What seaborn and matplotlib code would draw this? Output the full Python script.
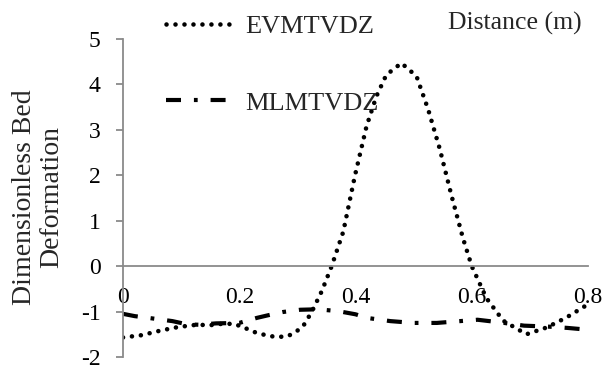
import matplotlib
matplotlib.use("Agg")
import matplotlib.pyplot as plt
import seaborn as sns
import pandas as pd

# ---- data ----
x_ev = [0.0, 0.032, 0.064, 0.095, 0.127, 0.15, 0.17, 0.19, 0.207, 0.221, 0.236, 0.253,
        0.267, 0.284, 0.299, 0.31, 0.325, 0.342, 0.359, 0.379, 0.399, 0.419, 0.436,
        0.453, 0.479, 0.505, 0.525, 0.545, 0.565, 0.585, 0.600, 0.625, 0.654, 0.694,
        0.729, 0.763, 0.8]
y_ev = [-1.57, -1.52, -1.42, -1.34, -1.29, -1.30, -1.27, -1.27, -1.34, -1.43, -1.49,
        -1.54, -1.56, -1.54, -1.43, -1.32, -1.0, -0.55, 0.0, 0.76, 1.99, 3.08, 3.74,
        4.21, 4.47, 4.18, 3.45, 2.58, 1.56, 0.61, 0.0, -0.70, -1.2, -1.50, -1.35,
        -1.13, -0.84]

x_ml = [0.0, 0.02, 0.05, 0.085, 0.11, 0.13, 0.16, 0.2, 0.23, 0.25, 0.275, 0.305,
        0.335, 0.37, 0.4, 0.42, 0.46, 0.5, 0.54, 0.58, 0.61, 0.65, 0.69, 0.73,
        0.765, 0.8]
y_ml = [-1.05, -1.10, -1.15, -1.21, -1.28, -1.29, -1.26, -1.25, -1.14, -1.08, -1.01,
        -0.96, -0.95, -0.99, -1.06, -1.14, -1.21, -1.25, -1.25, -1.21, -1.18, -1.24,
        -1.31, -1.33, -1.36, -1.40]

series_names = ["EVMTVDZ", "MLMTVDZ"]
x_ticks = [0, 0.2, 0.4, 0.6, 0.8]
x_ticklabels = ["0", "0.2", "0.4", "0.6", "0.8"]
y_ticks = [-2, -1, 0, 1, 2, 3, 4, 5]
y_ticklabels = ["-2", "-1", "0", "1", "2", "3", "4", "5"]
x_title = "Distance (m)"
y_title = "Dimensionless Bed\nDeformation"

# ---- plot ----
sns.set_theme(style="white")
plt.rcParams["font.family"] = ["Liberation Serif", "DejaVu Serif"]
plt.rcParams["axes.unicode_minus"] = False
FS = 17

fig = plt.figure(figsize=(6.08, 3.69), dpi=100)
ax = fig.add_axes([123 / 608, 1 - 357 / 369, 465 / 608, 318 / 369])

df_ev = pd.DataFrame({"x": x_ev, "y": y_ev})
df_ml = pd.DataFrame({"x": x_ml, "y": y_ml})

sns.lineplot(data=df_ev, x="x", y="y", ax=ax, color="black", lw=3.3,
             label=series_names[0], sort=False)
sns.lineplot(data=df_ml, x="x", y="y", ax=ax, color="black", lw=3.0,
             label=series_names[1], sort=False)
l_ev, l_ml = ax.get_lines()[:2]
l_ev.set_linestyle((0, (0.01, 1.95)))
l_ev.set_dash_capstyle("round")
l_ml.set_linestyle((0, (3.6, 3.1, 0.9, 3.1)))
l_ml.set_dash_capstyle("butt")

ax.set_xlim(0, 0.8)
ax.set_ylim(-2, 5)
ax.set_xticks(x_ticks)
ax.set_xticklabels(x_ticklabels)
ax.set_yticks(y_ticks)
ax.set_yticklabels(y_ticklabels)
ax.set_xlabel("")
ax.set_ylabel("")

gray = "#8a8a8a"
for s in ["top", "right"]:
    ax.spines[s].set_visible(False)
ax.spines["bottom"].set_position(("data", 0))
ax.spines["bottom"].set_color(gray)
ax.spines["left"].set_color(gray)
ax.spines["bottom"].set_linewidth(1.3)
ax.spines["left"].set_linewidth(1.3)
ax.tick_params(axis="x", direction="in", length=5, width=1.3, color=gray,
               pad=15, labelsize=FS, labelcolor="black")
ax.tick_params(axis="y", direction="out", length=5, width=1.3, color=gray,
               pad=11, labelsize=FS, labelcolor="black", left=True)
ax.patch.set_alpha(0)

fig.text(448 / 608, 1 - 12 / 369, x_title, fontsize=18.5, ha="left", va="top")
fig.text(38 / 608, 1 - 197 / 369, y_title, fontsize=20, rotation=90,
         ha="center", va="center", multialignment="center", linespacing=1.1)

leg = ax.legend(loc="upper left", bbox_to_anchor=(166 / 608, 1 - 15 / 369),
                bbox_transform=fig.transFigure, frameon=False, fontsize=19,
                handlelength=2.6, handletextpad=0.4, labelspacing=2.0,
                borderpad=0, borderaxespad=0)

fig.savefig("out.png", dpi=100)
